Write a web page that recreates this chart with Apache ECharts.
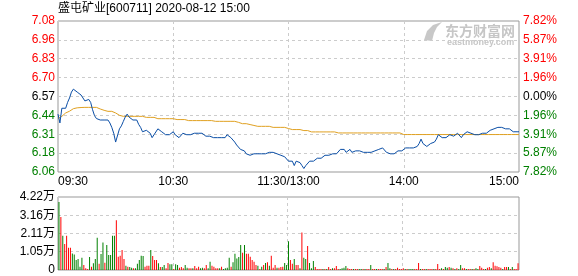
<!DOCTYPE html>
<html><head><meta charset="utf-8">
<script src="https://cdn.jsdelivr.net/npm/echarts@6/dist/echarts.min.js"></script>
<style>html,body{margin:0;padding:0;background:#fff}#c{width:578px;height:276px}</style>
</head><body><div id="c"></div>
<script>
const titleText = '盛屯矿业[600711] 2020-08-12 15:00';
const preClose = 6.57;
const pctRange = 0.0782;
const priceTicks = ['6.06','6.18','6.31','6.44','6.57','6.70','6.83','6.96','7.08'];
const pctTicks = ['7.82%','5.87%','3.91%','1.96%','0.00%','1.96%','3.91%','5.87%','7.82%'];
const volTicks = ['0','1.05万','2.11万','3.16万','4.22万'];
const volMax = 42200;
const timeLabels = {0:'09:30',60:'10:30',120:'11:30/13:00',180:'14:00',240:'15:00'};
const gridLineIdx = [60,120,180];

const price = [
6.45,6.39,6.49,6.48,6.49,6.53,6.56,6.60,6.62,6.62,
6.60,6.59,6.58,6.56,6.54,6.54,6.55,6.53,6.48,6.44,
6.42,6.42,6.41,6.40,6.41,6.42,6.41,6.39,6.36,6.32,
6.26,6.27,6.35,6.37,6.40,6.43,6.45,6.43,6.43,6.41,
6.41,6.41,6.38,6.36,6.33,6.33,6.34,6.33,6.32,6.29,
6.31,6.31,6.35,6.34,6.33,6.32,6.31,6.31,6.31,6.32,
6.33,6.31,6.30,6.29,6.30,6.32,6.31,6.31,6.30,6.31,
6.32,6.32,6.32,6.32,6.33,6.32,6.31,6.30,6.30,6.30,
6.30,6.29,6.29,6.29,6.29,6.29,6.29,6.29,6.31,6.30,
6.29,6.28,6.26,6.24,6.23,6.21,6.22,6.20,6.18,6.17,
6.17,6.16,6.18,6.19,6.18,6.18,6.18,6.18,6.18,6.18,
6.19,6.20,6.19,6.18,6.18,6.17,6.17,6.17,6.16,6.15,
6.13,6.12,6.13,6.10,6.13,6.13,6.12,6.10,6.08,6.10,
6.11,6.13,6.14,6.13,6.14,6.15,6.16,6.15,6.16,6.17,
6.16,6.17,6.18,6.18,6.18,6.18,6.19,6.21,6.20,6.21,
6.19,6.19,6.21,6.19,6.20,6.20,6.21,6.20,6.20,6.19,
6.19,6.19,6.20,6.19,6.19,6.20,6.21,6.21,6.21,6.22,
6.22,6.19,6.18,6.18,6.17,6.18,6.19,6.20,6.20,6.20,
6.21,6.22,6.22,6.22,6.22,6.22,6.22,6.23,6.25,6.28,
6.25,6.24,6.23,6.24,6.25,6.25,6.26,6.28,6.31,6.32,
6.29,6.30,6.29,6.29,6.31,6.31,6.30,6.30,6.32,6.33,
6.29,6.31,6.32,6.33,6.33,6.32,6.32,6.31,6.31,6.31,
6.32,6.32,6.32,6.32,6.33,6.34,6.34,6.35,6.36,6.36,
6.36,6.36,6.36,6.35,6.35,6.35,6.34,6.33,6.33,6.33,
6.33];

const avgPrice = [
6.42,6.43,6.435,6.445,6.458,6.465,6.47,6.48,6.487,6.492,
6.493,6.494,6.495,6.496,6.496,6.496,6.496,6.496,6.496,6.496,
6.496,6.492,6.485,6.478,6.476,6.469,6.469,6.469,6.469,6.469,
6.458,6.45,6.442,6.435,6.435,6.435,6.435,6.435,6.435,6.435,
6.435,6.435,6.435,6.435,6.435,6.435,6.428,6.428,6.428,6.428,
6.428,6.419,6.419,6.419,6.419,6.419,6.419,6.419,6.419,6.419,
6.419,6.413,6.413,6.413,6.413,6.413,6.413,6.406,6.406,6.406,
6.406,6.406,6.406,6.406,6.406,6.406,6.406,6.406,6.406,6.406,
6.406,6.401,6.401,6.401,6.401,6.401,6.401,6.401,6.401,6.401,
6.401,6.401,6.401,6.394,6.394,6.394,6.385,6.385,6.385,6.379,
6.379,6.379,6.373,6.367,6.367,6.367,6.367,6.367,6.367,6.367,
6.367,6.36,6.36,6.36,6.36,6.36,6.36,6.36,6.36,6.36,
6.352,6.345,6.345,6.345,6.345,6.345,6.345,6.338,6.338,6.338,
6.338,6.338,6.329,6.329,6.329,6.329,6.329,6.329,6.329,6.329,
6.329,6.329,6.329,6.329,6.329,6.322,6.322,6.322,6.322,6.322,
6.322,6.322,6.322,6.322,6.322,6.322,6.322,6.322,6.322,6.322,
6.322,6.322,6.322,6.322,6.322,6.322,6.322,6.322,6.322,6.322,
6.322,6.322,6.322,6.322,6.322,6.322,6.322,6.322,6.322,6.322,
6.311,6.311,6.311,6.311,6.311,6.311,6.311,6.311,6.311,6.311,
6.311,6.311,6.311,6.311,6.311,6.311,6.311,6.311,6.311,6.311,
6.311,6.311,6.311,6.311,6.311,6.311,6.311,6.311,6.311,6.311,
6.311,6.311,6.311,6.311,6.311,6.311,6.311,6.311,6.311,6.311,
6.311,6.311,6.311,6.311,6.311,6.311,6.311,6.311,6.311,6.311,
6.311,6.311,6.311,6.311,6.311,6.311,6.311,6.311,6.311,6.311,
6.311];

const volume = [
39320,30690,19760,14960,19760,12850,12850,9590,9010,5750,
6330,1920,7100,2880,960,580,7480,1920,3840,6330,
18600,3640,9210,15920,4220,14390,8630,8630,19760,19760,
28770,7670,8250,11510,6330,2490,1920,1730,1340,960,
960,3640,5750,8250,8060,1920,2490,2490,11510,8060,
5750,5750,3840,1730,1730,2880,960,4030,3260,3260,
580,3260,2880,1340,1730,960,2880,1340,960,960,
960,2300,960,1920,960,1340,960,2880,960,4800,
2490,1920,960,960,960,1920,580,960,1340,7100,
1920,4410,9400,6710,7480,14390,9970,14390,9400,9400,
7670,5750,4800,2880,2490,580,1920,2880,4030,4410,
2490,8250,1340,2880,1340,1340,1730,1920,4030,2880,
16690,5750,3640,6330,2880,2880,960,21670,7100,6330,
13810,4030,960,5180,1730,580,580,580,580,580,
580,1730,580,960,960,2300,580,580,960,1340,
2300,960,580,580,580,580,580,580,580,580,
580,580,580,2880,580,580,580,580,580,580,
580,1730,4030,960,580,580,580,1340,580,580,
960,580,580,580,580,580,580,580,4030,580,
580,580,580,580,580,580,580,580,3450,580,
960,580,1730,1340,1730,1340,960,580,960,580,
2880,960,960,580,580,580,580,580,960,580,
2300,1340,580,580,1340,1730,960,4410,2490,2110,
1730,1340,580,1730,1730,1730,580,1730,580,580,
3840];

const volDir =
'GRGRRRRGGG'+'GGGRRRGRGG'+'GRGGRGGGGG'+'RRRRRGRGGR'+'GGGGGRRRGR'+'RRGRGGRRGG'+
'RGGRRRGGRR'+'GRRRGGRRGG'+'RRRRGRGGGG'+'RGGGGGRGRR'+'RRRRGRGRGR'+'GRRRGRRRGG'+'G'+
'RRGRRGRGGR'+'GGGRRRRGRG'+'RRGRRRGGGG'+'RRRGRRGGRG'+'RRGRRGRRRG'+'RGGRGRRRRR'+
'GRGGGRRRGR'+'RGRRRGRRRG'+'RGGRGRGRGG'+'RRGRRGRGGR'+'RRGRRGRRRR'+'RGRRGRGRRR';

const minP = preClose * (1 - pctRange);
const maxP = preClose * (1 + pctRange);
const stepP = (maxP - minP) / 8;
const cats = price.map((_, i) => i);
const RED = '#ff0000', GREEN = '#008000';
const FONT = '"Liberation Sans", Arial, "Noto Sans CJK SC", sans-serif';

function tickColor(v) {
  v = +v;
  if (v > preClose + 1e-4) return RED;
  if (v < preClose - 1e-4) return GREEN;
  return '#000';
}
const dashed = { show: true, lineStyle: { type: [3, 3], color: '#cccccc', width: 1 } };

const chart = echarts.init(document.getElementById('c'), null, { renderer: 'canvas' });
chart.setOption({
  animation: false,
  backgroundColor: '#fff',
  textStyle: { fontFamily: FONT },
  title: {
    text: titleText, left: 58, top: 3, padding: 0,
    textStyle: { fontSize: 12, fontWeight: 'normal', color: '#000', fontFamily: FONT }
  },
  graphic: [
    { type: 'polygon', z: 0, shape: { points: [[424,40],[427,31],[433,25],[442,22],[437,27],[434,33],[432,41]] }, style: { fill: '#c8c8c8' } },
    { type: 'text', z: 0, left: 445, top: 24, style: { text: '东方财富网', fill: '#c6c6c6', font: 'bold 14px "Noto Sans CJK SC"' } },
    { type: 'text', z: 0, left: 447, top: 38, style: { text: 'eastmoney.com', fill: '#c6c6c6', font: 'bold 9px "Liberation Sans"' } }
  ],
  grid: [
    { left: 58, right: 59, top: 21, height: 151, show: true, borderColor: '#999', borderWidth: 1 },
    { left: 58, right: 59, top: 197, height: 73, show: true, borderColor: '#999', borderWidth: 1 }
  ],
  xAxis: [
    {
      type: 'category', gridIndex: 0, data: cats, boundaryGap: false,
      axisLine: { show: false }, axisTick: { show: false },
      axisLabel: {
        interval: (i) => (i in timeLabels), formatter: (v, i) => timeLabels[i] || '',
        margin: 4, fontSize: 12, color: '#000', fontFamily: FONT,
        alignMinLabel: 'left', alignMaxLabel: 'right'
      },
      splitLine: Object.assign({}, dashed, { interval: (i) => gridLineIdx.indexOf(i) >= 0 })
    },
    {
      type: 'category', gridIndex: 1, data: cats, boundaryGap: true,
      axisLine: { show: false }, axisTick: { show: false }, axisLabel: { show: false },
      splitLine: Object.assign({}, dashed, { interval: (i) => gridLineIdx.indexOf(i) >= 0 })
    }
  ],
  yAxis: [
    {
      type: 'value', gridIndex: 0, min: minP, max: maxP, interval: stepP, position: 'left',
      axisLine: { show: false }, axisTick: { show: false }, splitLine: dashed,
      axisLabel: {
        margin: 3, fontSize: 12, fontFamily: FONT,
        formatter: (v) => priceTicks[Math.round((v - minP) / stepP)],
        color: tickColor
      }
    },
    {
      type: 'value', gridIndex: 0, min: minP, max: maxP, interval: stepP, position: 'right',
      axisLine: { show: false }, axisTick: { show: false }, splitLine: { show: false },
      axisLabel: {
        margin: 4, fontSize: 12, fontFamily: FONT,
        formatter: (v) => pctTicks[Math.round((v - minP) / stepP)],
        color: tickColor
      }
    },
    {
      type: 'value', gridIndex: 1, min: 0, max: volMax, interval: volMax / 4, position: 'left',
      axisLine: { show: false }, axisTick: { show: false }, splitLine: dashed,
      axisLabel: {
        margin: 3, fontSize: 12, fontFamily: FONT, color: '#000',
        formatter: (v) => volTicks[Math.round(v / (volMax / 4))]
      }
    }
  ],
  series: [
    {
      type: 'line', xAxisIndex: 0, yAxisIndex: 0, data: avgPrice, showSymbol: false,
      lineStyle: { color: '#e0a020', width: 1 }, z: 3
    },
    {
      type: 'line', xAxisIndex: 0, yAxisIndex: 0, data: price, showSymbol: false,
      lineStyle: { color: '#0a4ea6', width: 1 }, z: 4
    },
    {
      type: 'bar', xAxisIndex: 1, yAxisIndex: 2, barWidth: 1,
      data: volume.map((v, i) => ({ value: v, itemStyle: { color: volDir[i] === 'R' ? RED : GREEN } }))
    }
  ]
});
</script>
</body></html>
